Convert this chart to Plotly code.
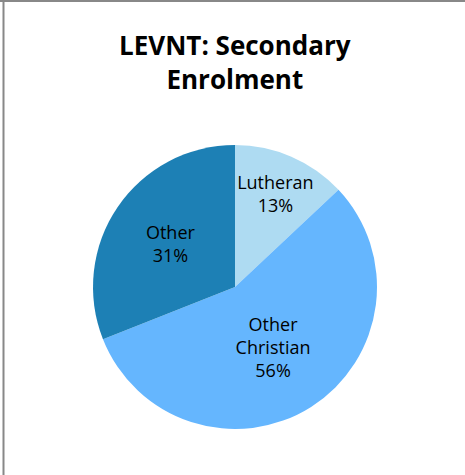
import plotly.graph_objects as go

labels = ["Lutheran", "Other Christian", "Other"]
display_labels = ["Lutheran", "Other<br>Christian", "Other"]
values = [13, 56, 31]
colors = ["#AEDBF2", "#65B6FE", "#1D80B5"]

fig = go.Figure(go.Pie(
    labels=labels,
    values=values,
    text=display_labels,
    texttemplate="%{text}<br>%{percent:.0%}",
    textposition="inside",
    insidetextorientation="horizontal",
    sort=False,
    direction="clockwise",
    rotation=0,
    marker=dict(colors=colors, line=dict(width=0)),
    textfont=dict(family="Open Sans", size=18, color="black"),
    domain=dict(x=[93 / 465, 377 / 465], y=[1 - 429 / 475, 1 - 145 / 475]),
    showlegend=False,
    hoverinfo="label+percent",
))

fig.update_layout(
    width=465, height=475,
    margin=dict(l=0, r=0, t=0, b=0),
    paper_bgcolor="white",
    uniformtext=dict(minsize=18, mode="show"),
    title=dict(
        text="<b>LEVNT: Secondary<br>Enrolment</b>",
        x=0.505, xanchor="center", y=1 - 55 / 475, yanchor="middle",
        font=dict(family="Open Sans", size=26, color="black"),
    ),
    shapes=[
        dict(type="line", xref="paper", yref="paper", x0=0, x1=1, y0=1 - 1 / 475, y1=1 - 1 / 475,
             line=dict(color="#888888", width=2)),
        dict(type="line", xref="paper", yref="paper", x0=3.5 / 465, x1=3.5 / 465, y0=0, y1=1,
             line=dict(color="#888888", width=2)),
    ],
)

fig.write_html("out.html", config={"displayModeBar": False},
               post_script="document.body.style.margin='0';")
